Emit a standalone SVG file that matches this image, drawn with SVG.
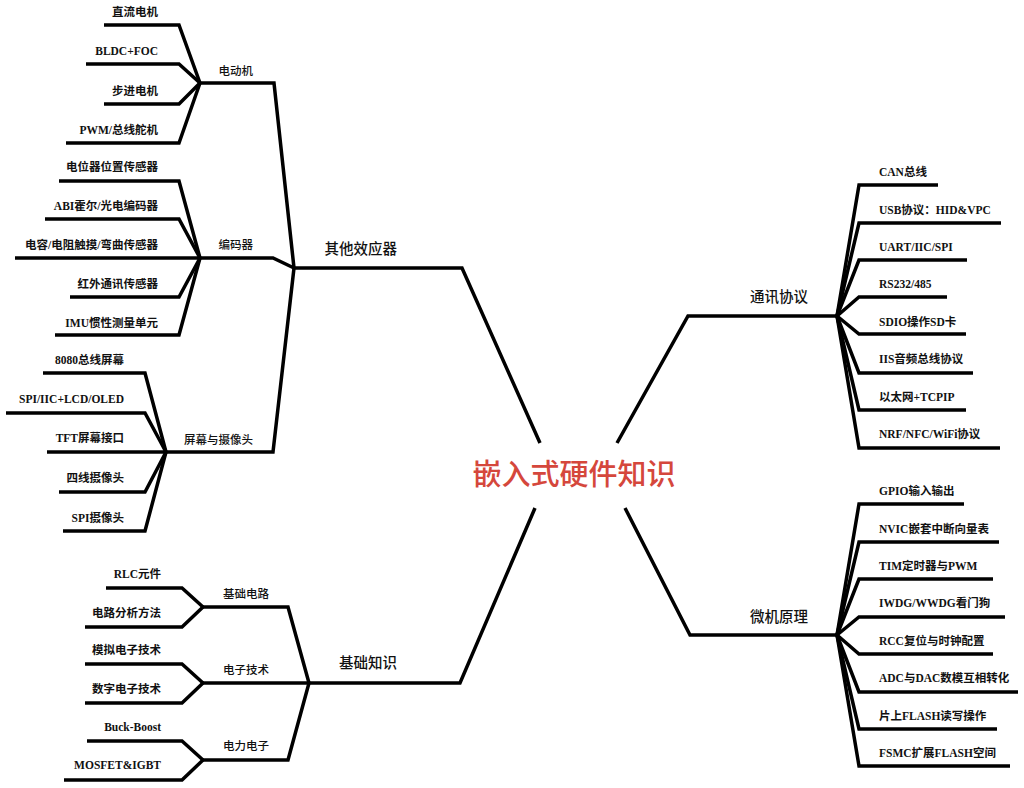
<svg xmlns="http://www.w3.org/2000/svg" width="1024" height="788" viewBox="0 0 1024 788">
<style>
.c{fill:none;stroke:#000;stroke-width:3.5;stroke-linejoin:miter;stroke-linecap:butt}
.leaf{font-family:"Liberation Serif","Noto Sans CJK SC",serif;font-weight:bold;font-size:11.5px;fill:#111}
.sub{font-family:"Noto Sans CJK SC","Noto Sans",sans-serif;font-size:11.5px;font-weight:500;fill:#111}
.main{font-family:"Noto Sans CJK SC","Noto Sans",sans-serif;font-size:14.5px;font-weight:500;fill:#111}
.title{font-family:"Noto Sans CJK SC","Noto Sans",sans-serif;font-size:29px;font-weight:500;fill:#d5473c}
.l{text-anchor:end}
</style>
<rect width="1024" height="788" fill="#fff"/>
<g id="connectors" class="c">
<path d="M540,443 L462,268 L294,268"/>
<path d="M535,508 L460,683 L309,683"/>
<path d="M617,443 L688,316 L837,316"/>
<path d="M625,508 L690,635 L837,635"/>
<path d="M294,268 L274,83 L200,83"/>
<path d="M294,268 L273,258 L200,258"/>
<path d="M294,268 L273,452 L166,452"/>
<path d="M200,83 L179,25 L104,25"/>
<path d="M200,83 L179,64 L86,64"/>
<path d="M200,83 L179,104 L104,104"/>
<path d="M200,83 L179,143 L66,143"/>
<path d="M200,258 L179,181 L59,181"/>
<path d="M200,258 L179,219 L45,219"/>
<path d="M200,258 L15,258"/>
<path d="M200,258 L179,297 L70,297"/>
<path d="M200,258 L179,335 L55,335"/>
<path d="M166,452 L145,373 L43,373"/>
<path d="M166,452 L145,413 L6,413"/>
<path d="M166,452 L47,452"/>
<path d="M166,452 L145,492 L59,492"/>
<path d="M166,452 L145,531 L63,531"/>
<path d="M309,683 L288,607 L203,607"/>
<path d="M309,683 L203,683"/>
<path d="M309,683 L288,760 L203,760"/>
<path d="M203,607 L182,588 L106,588"/>
<path d="M203,607 L182,627 L85,627"/>
<path d="M203,683 L182,664 L85,664"/>
<path d="M203,683 L182,703 L85,703"/>
<path d="M203,760 L182,741 L87,741"/>
<path d="M203,760 L182,780 L64,780"/>
<path d="M837,316 L859,185 L938,185"/>
<path d="M837,316 L859,223 L1001,223"/>
<path d="M837,316 L859,260 L967,260"/>
<path d="M837,316 L859,297 L947,297"/>
<path d="M837,316 L859,334 L966,334"/>
<path d="M837,316 L859,373 L973,373"/>
<path d="M837,316 L859,410 L966,410"/>
<path d="M837,316 L859,448 L1000,448"/>
<path d="M837,635 L859,504 L964,504"/>
<path d="M837,635 L859,542 L999,542"/>
<path d="M837,635 L859,579 L993,579"/>
<path d="M837,635 L859,617 L1005,617"/>
<path d="M837,635 L859,654 L993,654"/>
<path d="M837,635 L859,692 L1018,692"/>
<path d="M837,635 L859,729 L997,729"/>
<path d="M837,635 L859,766 L1010,766"/>
</g>
<g id="root"><text class="title" x="574" y="485" text-anchor="middle">嵌入式硬件知识</text></g>
<g id="n-other"><text class="main l" x="397" y="254">其他效应器</text></g>
<g id="n-basic"><text class="main l" x="397" y="668">基础知识</text></g>
<g id="n-comm"><text class="main" x="750" y="302">通讯协议</text></g>
<g id="n-mcu"><text class="main" x="750" y="622">微机原理</text></g>
<g id="n-motor"><text class="sub l" x="253" y="75">电动机</text></g>
<g id="n-encoder"><text class="sub l" x="253" y="249">编码器</text></g>
<g id="n-screen"><text class="sub l" x="253" y="444">屏幕与摄像头</text></g>
<g id="n-circuit"><text class="sub" x="223" y="598">基础电路</text></g>
<g id="n-electronic"><text class="sub" x="223" y="674">电子技术</text></g>
<g id="n-power"><text class="sub" x="223" y="750">电力电子</text></g>
<g id="leaves-motor" class="leaf l">
<text x="158" y="16">直流电机</text>
<text x="158" y="55">BLDC+FOC</text>
<text x="158" y="95">步进电机</text>
<text x="158" y="134">PWM/总线舵机</text>
</g>
<g id="leaves-encoder" class="leaf l">
<text x="158" y="171">电位器位置传感器</text>
<text x="158" y="210">ABI霍尔/光电编码器</text>
<text x="158" y="249">电容/电阻触摸/弯曲传感器</text>
<text x="158" y="288">红外通讯传感器</text>
<text x="158" y="327">IMU惯性测量单元</text>
</g>
<g id="leaves-screen" class="leaf l">
<text x="124" y="364">8080总线屏幕</text>
<text x="124" y="403">SPI/IIC+LCD/OLED</text>
<text x="124" y="442">TFT屏幕接口</text>
<text x="124" y="482">四线摄像头</text>
<text x="124" y="522">SPI摄像头</text>
</g>
<g id="leaves-basic" class="leaf l">
<text x="161" y="578">RLC元件</text>
<text x="161" y="617">电路分析方法</text>
<text x="161" y="654">模拟电子技术</text>
<text x="161" y="693">数字电子技术</text>
<text x="161" y="731">Buck-Boost</text>
<text x="161" y="769">MOSFET&amp;IGBT</text>
</g>
<g id="leaves-comm" class="leaf">
<text x="879" y="176">CAN总线</text>
<text x="879" y="214">USB协议：HID&amp;VPC</text>
<text x="879" y="251">UART/IIC/SPI</text>
<text x="879" y="288">RS232/485</text>
<text x="879" y="326">SDIO操作SD卡</text>
<text x="879" y="363">IIS音频总线协议</text>
<text x="879" y="401">以太网+TCPIP</text>
<text x="879" y="438">NRF/NFC/WiFi协议</text>
</g>
<g id="leaves-mcu" class="leaf">
<text x="879" y="495">GPIO输入输出</text>
<text x="879" y="533">NVIC嵌套中断向量表</text>
<text x="879" y="570">TIM定时器与PWM</text>
<text x="879" y="607">IWDG/WWDG看门狗</text>
<text x="879" y="645">RCC复位与时钟配置</text>
<text x="879" y="682">ADC与DAC数模互相转化</text>
<text x="879" y="720">片上FLASH读写操作</text>
<text x="879" y="757">FSMC扩展FLASH空间</text>
</g>
</svg>
